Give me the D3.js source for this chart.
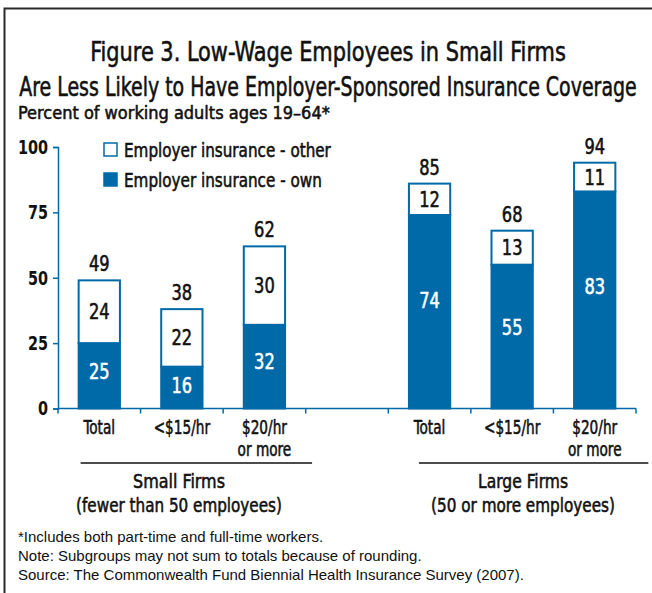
<!DOCTYPE html>
<html>
<head>
<meta charset="utf-8">
<script src="https://cdn.jsdelivr.net/npm/d3@7"></script>
<style>
  html, body { margin: 0; padding: 0; background: #fff; }
  svg text { font-family: "DejaVu Sans Condensed", "DejaVu Sans", sans-serif; }
  svg text.note { font-family: "Liberation Sans", Arial, sans-serif; }
  svg text.med { stroke-width: 0.55px; stroke-linejoin: round; }
</style>
</head>
<body>
<svg id="chart" width="652" height="593"></svg>
<script>
// Slots along the x axis; the empty slot separates small and large firms.
const slots = ["small-total", "small-low", "small-high", "gap", "large-total", "large-low", "large-high"];
const tickLabels = [["Total"], ["<$15/hr"], ["$20/hr", "or more"], [], ["Total"], ["<$15/hr"], ["$20/hr", "or more"]];
const ownValues = [25, 16, 32, null, 74, 55, 83];
const otherValues = [24, 22, 30, null, 12, 13, 11];
const totalValues = [49, 38, 62, null, 85, 68, 94];
const yTicks = [0, 25, 50, 75, 100];
const seriesNames = ["Employer insurance - other", "Employer insurance - own"];
const groupNames = [
  ["Small Firms", "(fewer than 50 employees)"],
  ["Large Firms", "(50 or more employees)"]
];
const titleLines = [
  "Figure 3. Low-Wage Employees in Small Firms",
  "Are Less Likely to Have Employer-Sponsored Insurance Coverage"
];
const subtitle = "Percent of working adults ages 19\u201364*";
const notes = [
  "*Includes both part-time and full-time workers.",
  "Note: Subgroups may not sum to totals because of rounding.",
  "Source: The Commonwealth Fund Biennial Health Insurance Survey (2007)."
];

const BLUE = "#006aa8";
const INK = "#111";
const svg = d3.select("#chart");

// Narrow a text horizontally (condensed face look) by scaling about its anchor point.
// Either a target width (w) or a factor (k) is given.
function squeeze(sel, opts) {
  sel.each(function () {
    const t = d3.select(this);
    const w0 = this.getComputedTextLength();
    const k = opts.w ? opts.w / w0 : opts.k;
    const px = +t.attr("x") || 0, py = +t.attr("y") || 0;
    const prev = t.attr("transform") || "";
    t.attr("x", 0).attr("y", 0)
      .attr("transform", `${prev} translate(${px},${py}) scale(${k},1)`);
  });
}
// Medium weight: outline the glyphs in their own colour
function medium(sel, color) {
  sel.classed("med", true).attr("stroke", color);
}

// Frame along the top and left edges
svg.append("path")
  .attr("d", "M4.5,593V8.5H652")
  .attr("fill", "none")
  .attr("stroke", "#2b2b2b")
  .attr("stroke-width", 2);

// Title
const titleWidths = [476, 618];
svg.append("g").selectAll("text").data(titleLines).join("text")
  .attr("x", 328)
  .attr("y", (d, i) => 61 + i * 35)
  .attr("text-anchor", "middle")
  .attr("font-size", 26)
  .attr("fill", INK)
  .text(d => d)
  .call(medium, INK)
  .each(function (d, i) { squeeze(d3.select(this), { w: titleWidths[i] }); });

svg.append("text")
  .attr("x", 18).attr("y", 119)
  .attr("font-size", 18)
  .attr("fill", INK)
  .text(subtitle)
  .call(medium, INK)
  .call(squeeze, { w: 312 });

// Scales
const x = d3.scaleBand().domain(slots).range([58, 636]).paddingInner(0.5).paddingOuter(0.25);
const y = d3.scaleLinear().domain([0, 100]).range([408.5, 147]);

const rows = slots.map((s, i) => ({
  slot: s, own: ownValues[i], other: otherValues[i], total: totalValues[i]
})).filter(d => d.own !== null);

const layers = d3.stack().keys(["own", "other"])(rows);

// Y axis
const yAxis = svg.append("g")
  .attr("transform", "translate(58,0)")
  .call(d3.axisLeft(y).tickValues(yTicks).tickSize(5).tickPadding(5));
yAxis.select(".domain").attr("stroke", BLUE).attr("stroke-width", 1.5);
yAxis.selectAll(".tick line").attr("stroke", BLUE).attr("stroke-width", 1.5);
yAxis.selectAll(".tick text")
  .attr("font-size", 20).attr("font-weight", "bold").attr("fill", INK)
  .style("font-family", "'DejaVu Sans Condensed', sans-serif")
  .call(squeeze, { k: 0.8 });

// Bars: own (filled) then other (outlined)
const barG = svg.append("g");
layers.forEach(layer => {
  const isOwn = layer.key === "own";
  barG.append("g").selectAll("rect").data(layer).join("rect")
    .attr("x", d => x(d.data.slot))
    .attr("width", x.bandwidth())
    .attr("y", d => y(d[1]))
    .attr("height", d => y(d[0]) - y(d[1]))
    .attr("fill", isOwn ? BLUE : "#fff")
    .attr("stroke", BLUE)
    .attr("stroke-width", 2);
});

// X axis: boundary ticks between slots
const step = x.step();
const edges = d3.range(slots.length + 1).map(i => x.range()[0] + i * step);
const xAxisG = svg.append("g");
xAxisG.append("line")
  .attr("x1", x.range()[0]).attr("x2", x.range()[1])
  .attr("y1", y(0)).attr("y2", y(0))
  .attr("stroke", BLUE).attr("stroke-width", 1.5);
xAxisG.selectAll("line.tk").data(edges).join("line")
  .attr("class", "tk")
  .attr("x1", d => d).attr("x2", d => d)
  .attr("y1", y(0)).attr("y2", y(0) + 5)
  .attr("stroke", BLUE).attr("stroke-width", 1.5);

// Category labels
const catG = svg.append("g");
slots.forEach((s, i) => {
  const cx = x(s) + x.bandwidth() / 2;
  tickLabels[i].forEach((t, j) => {
    catG.append("text")
      .attr("x", cx).attr("y", 434 + j * 22)
      .attr("text-anchor", "middle")
      .attr("font-size", 19).attr("fill", INK)
      .text(t);
  });
});
catG.selectAll("text").call(medium, INK).call(squeeze, { k: 0.8 });

// Value labels
const lab = svg.append("g").attr("font-size", 21).attr("text-anchor", "middle");
rows.forEach(d => {
  const cx = x(d.slot) + x.bandwidth() / 2;
  lab.append("text").attr("x", cx).attr("y", y(d.own * 0.56) + 7.5)
    .attr("fill", "#fff").call(medium, "#fff").text(d.own);
  lab.append("text").attr("x", cx).attr("y", y(d.own + d.other / 2) + 7.5)
    .attr("fill", INK).call(medium, INK).text(d.other);
  lab.append("text").attr("x", cx).attr("y", y(d.own + d.other) - 9)
    .attr("fill", INK).call(medium, INK).text(d.total);
});
lab.selectAll("text").call(squeeze, { k: 0.86 });

// Legend
const legendWidths = [207, 198];
const legend = svg.append("g").attr("transform", "translate(104,143)");
seriesNames.forEach((name, i) => {
  const g = legend.append("g").attr("transform", `translate(0,${i * 30})`);
  g.append("rect").attr("x", 0).attr("y", 0).attr("width", 13).attr("height", 13)
    .attr("fill", i === 0 ? "#fff" : BLUE)
    .attr("stroke", BLUE).attr("stroke-width", 1.5);
  g.append("text").attr("x", 20).attr("y", 14)
    .attr("font-size", 19).attr("fill", INK).call(medium, INK).text(name)
    .call(squeeze, { w: legendWidths[i] });
});

// Firm-size group captions with rules
const groupSpans = [
  { x1: x(slots[0]) + 2, x2: x(slots[2]) + x.bandwidth() + 27, cx: 179, widths: [92, 206] },
  { x1: x(slots[4]) + 10, x2: x(slots[6]) + x.bandwidth() + 33, cx: 523, widths: [90, 184] }
];
const grp = svg.append("g");
groupSpans.forEach((g, i) => {
  grp.append("line")
    .attr("x1", g.x1).attr("x2", g.x2).attr("y1", 463).attr("y2", 463)
    .attr("stroke", INK).attr("stroke-width", 1.5);
  groupNames[i].forEach((t, j) => {
    grp.append("text").attr("x", g.cx).attr("y", 488 + j * 24)
      .attr("text-anchor", "middle").attr("font-size", 20).attr("fill", INK)
      .call(medium, INK).text(t)
      .call(squeeze, { w: g.widths[j] });
  });
});

// Notes
svg.append("g").selectAll("text").data(notes).join("text")
  .attr("class", "note")
  .attr("x", 18).attr("y", (d, i) => 542 + i * 19)
  .attr("font-size", 15).attr("fill", INK)
  .text(d => d);
</script>
</body>
</html>
